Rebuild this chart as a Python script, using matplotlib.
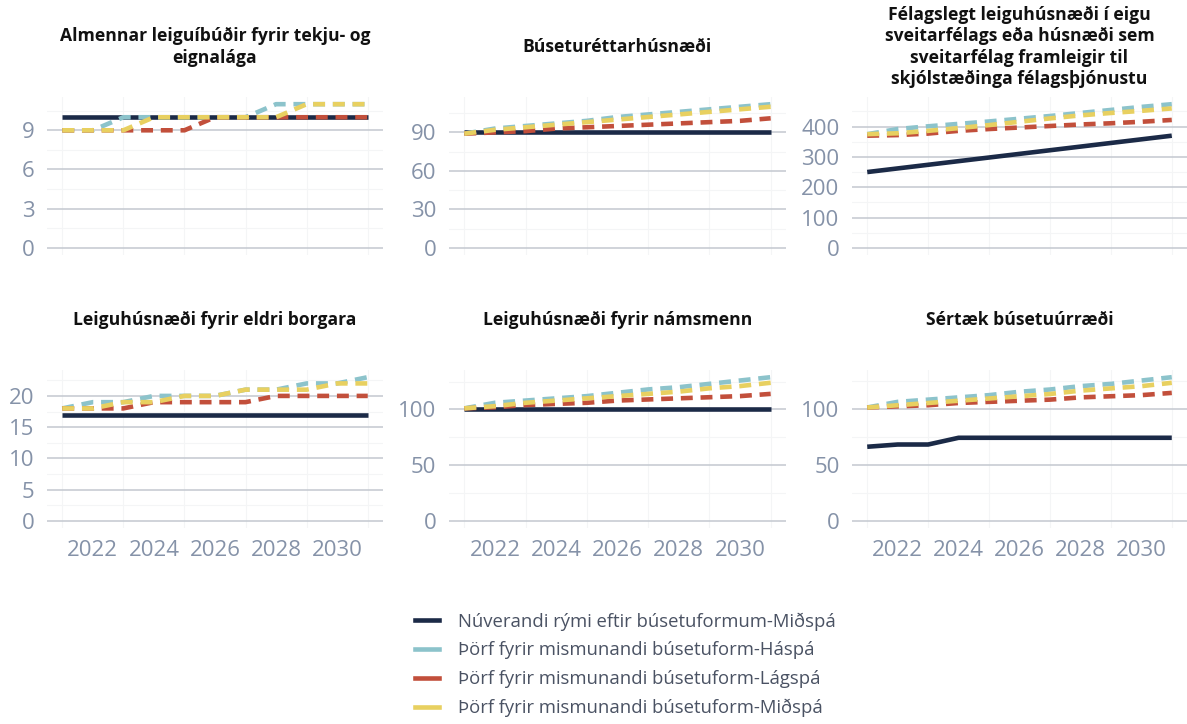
import matplotlib
matplotlib.use("Agg")
import matplotlib.pyplot as plt
from matplotlib.lines import Line2D

plt.rcParams["font.family"] = ["Open Sans", "DejaVu Sans"]

years = [2021, 2022, 2023, 2024, 2025, 2026, 2027, 2028, 2029, 2030, 2031]
xticks = [2022, 2024, 2026, 2028, 2030]

titles = [
    "Almennar leiguíbúðir fyrir tekju- og\neignalága",
    "Búseturéttarhúsnæði",
    "Félagslegt leiguhúsnæði í eigu\nsveitarfélags eða húsnæði sem\nsveitarfélag framleigir til\nskjólstæðinga félagsþjónustu",
    "Leiguhúsnæði fyrir eldri borgara",
    "Leiguhúsnæði fyrir námsmenn",
    "Sértæk búsetuúrræði",
]

labels = [
    "Núverandi rými eftir búsetuformum-Miðspá",
    "Þörf fyrir mismunandi búsetuform-Háspá",
    "Þörf fyrir mismunandi búsetuform-Lágspá",
    "Þörf fyrir mismunandi búsetuform-Miðspá",
]

# nuverandi (midspa), haspa, lagspa, midspa
almennar_nuv = [10, 10, 10, 10, 10, 10, 10, 10, 10, 10, 10]
almennar_ha = [9, 9, 10, 10, 10, 10, 10, 11, 11, 11, 11]
almennar_lag = [9, 9, 9, 9, 9, 10, 10, 10, 10, 10, 10]
almennar_mid = [9, 9, 9, 10, 10, 10, 10, 10, 11, 11, 11]

buseturett_nuv = [90, 90, 90, 90, 90, 90, 90, 90, 90, 90, 90]
buseturett_ha = [89, 93, 95, 97, 99, 102, 104, 106, 108, 110, 112]
buseturett_lag = [89, 90, 91, 93, 94, 95, 96, 97, 98, 99, 101]
buseturett_mid = [89, 92, 94, 96, 98, 100, 102, 104, 106, 108, 110]

felagslegt_nuv = [250, 262, 274, 286, 298, 310, 322, 334, 346, 358, 370]
felagslegt_ha = [375, 392, 401, 409, 417, 426, 435, 445, 455, 465, 474]
felagslegt_lag = [370, 372, 377, 386, 392, 397, 402, 407, 411, 416, 422]
felagslegt_mid = [375, 378, 386, 395, 405, 416, 427, 437, 445, 452, 460]

eldri_nuv = [17, 17, 17, 17, 17, 17, 17, 17, 17, 17, 17]
eldri_ha = [18, 19, 19, 20, 20, 20, 21, 21, 22, 22, 23]
eldri_lag = [18, 18, 18, 19, 19, 19, 19, 20, 20, 20, 20]
eldri_mid = [18, 18, 19, 19, 20, 20, 21, 21, 21, 22, 22]

nams_nuv = [100, 100, 100, 100, 100, 100, 100, 100, 100, 100, 100]
nams_ha = [101, 106, 108, 110, 112, 115, 118, 120, 123, 126, 129]
nams_lag = [101, 102, 104, 105, 106, 108, 109, 110, 111, 112, 114]
nams_mid = [101, 103, 106, 108, 110, 112, 114, 116, 119, 121, 124]

sertaek_nuv = [66, 68, 68, 74, 74, 74, 74, 74, 74, 74, 74]
sertaek_ha = [101, 106, 108, 110, 112, 115, 117, 120, 122, 125, 128]
sertaek_lag = [101, 102, 103, 105, 106, 107, 108, 110, 111, 112, 114]
sertaek_mid = [101, 103, 105, 107, 109, 111, 113, 116, 118, 120, 123]

panels = [
    (almennar_nuv, almennar_ha, almennar_lag, almennar_mid),
    (buseturett_nuv, buseturett_ha, buseturett_lag, buseturett_mid),
    (felagslegt_nuv, felagslegt_ha, felagslegt_lag, felagslegt_mid),
    (eldri_nuv, eldri_ha, eldri_lag, eldri_mid),
    (nams_nuv, nams_ha, nams_lag, nams_mid),
    (sertaek_nuv, sertaek_ha, sertaek_lag, sertaek_mid),
]
yticks = [
    [0, 3, 6, 9],
    [0, 30, 60, 90],
    [0, 100, 200, 300, 400],
    [0, 5, 10, 15, 20],
    [0, 50, 100],
    [0, 50, 100],
]

colors = ["#1b2a47", "#8cc3cb", "#c24f3b", "#e8d060"]
tick_col = "#8592a8"
grid_col = "#c3c8d0"
lw = 3.3

W, H = 1187, 724
fig = plt.figure(figsize=(W / 100, H / 100), dpi=100)

lefts = [47, 449, 852]
widths = [336, 337, 335]
tops = [97, 370]
ax_h = 158
title_y = [47, 320]

for i, (series, title, yt) in enumerate(zip(panels, titles, yticks)):
    row, col = divmod(i, 3)
    l, w, t = lefts[col], widths[col], tops[row]
    ax = fig.add_axes([l / W, 1 - (t + ax_h) / H, w / W, ax_h / H])

    # faint minor grid
    step = yt[1] - yt[0]
    for y in yt:
        ax.axhline(y + step / 2, color="#f4f5f6", lw=0.8, zorder=0)
    for x in years[::2]:
        ax.axvline(x, color="#f4f5f6", lw=0.8, zorder=0)
    for y in yt:
        ax.axhline(y, color=grid_col, lw=1.1, zorder=1)

    ax.plot(years, series[0], color=colors[0], lw=lw, solid_capstyle="butt", zorder=3)
    for s, c in zip(series[1:], colors[1:]):
        ax.plot(years, s, color=c, lw=lw, dashes=(2.6, 1.7), zorder=4)

    top = max(max(s) for s in series)
    pad = top * 0.05
    ax.set_ylim(-pad, top + pad)
    ax.set_xlim(2020.5, 2031.5)
    ax.set_yticks(yt)
    ax.set_xticks(xticks)
    ax.tick_params(length=0, labelsize=16, colors=tick_col, pad=9)
    if row == 0:
        ax.set_xticklabels([])
    for sp in ax.spines.values():
        sp.set_visible(False)

    fig.text((l + w / 2) / W, 1 - title_y[row] / H, title, ha="center", va="center",
             fontsize=12.6, fontweight="bold", color="#111111", linespacing=1.22)

handles = [Line2D([], [], color=c, lw=lw) for c in colors]
fig.legend(handles, labels, loc="center", bbox_to_anchor=(0.527, 0.082),
           frameon=False, fontsize=13.3, labelcolor="#4a5263",
           handlelength=1.3, handletextpad=1.0, labelspacing=0.58)

fig.savefig("out.png", dpi=100, facecolor="white")
